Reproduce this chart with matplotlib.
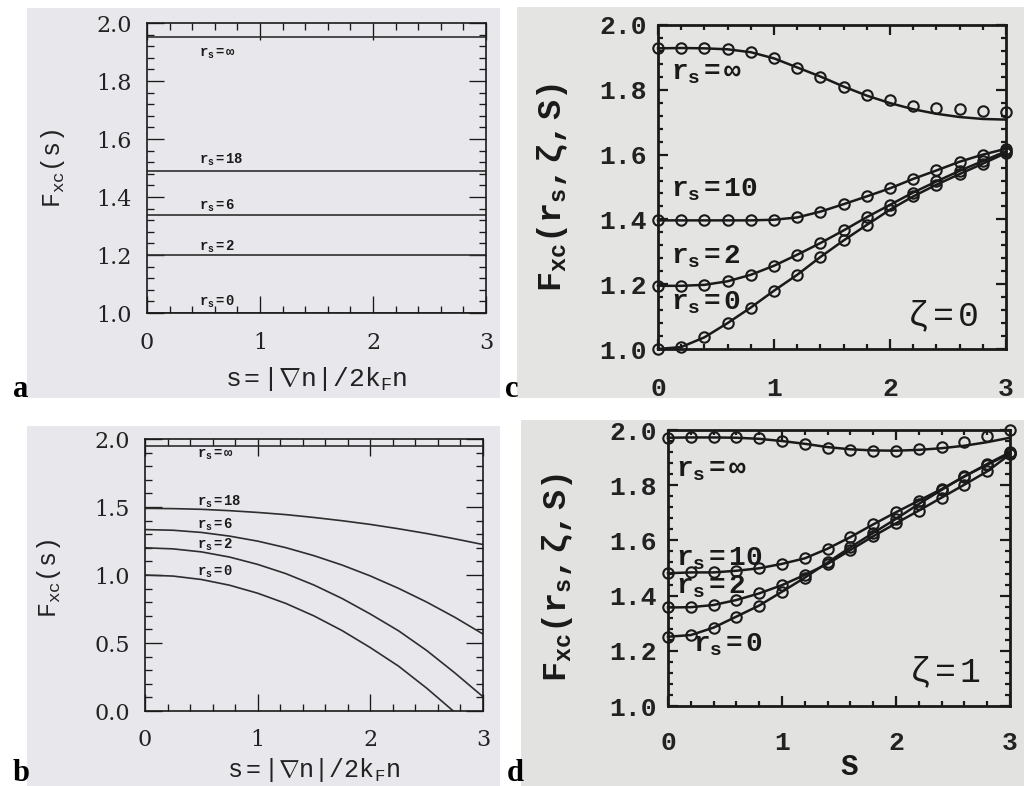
import matplotlib
matplotlib.use("Agg")
import matplotlib.pyplot as plt
from matplotlib.patches import Rectangle
from matplotlib.ticker import MultipleLocator, FormatStrFormatter

plt.rcParams['font.family'] = ['Liberation Mono', 'DejaVu Sans Mono']
plt.rcParams['mathtext.fontset'] = 'custom'
plt.rcParams['mathtext.rm'] = 'Liberation Mono'
plt.rcParams['mathtext.bf'] = 'Liberation Mono:bold'
plt.rcParams['mathtext.it'] = 'Liberation Mono:italic'

# ---- data -------------------------------------------------------------
# panel a: LDA limit, constant enhancement factor per r_s
a_labels = [r'r_s=\infty', 'r_s=18', 'r_s=6', 'r_s=2', 'r_s=0']
a_levels = [1.953, 1.489, 1.337, 1.200, 1.000]
a_label_y = [1.896, 1.528, 1.369, 1.229, 1.037]

# panel b: second-order gradient expansion
b_s = [0.0, 0.25, 0.5, 0.75, 1.0, 1.25, 1.5, 1.75, 2.0, 2.25, 2.5, 2.75, 3.0]
b_inf = [1.946, 1.946, 1.946, 1.946, 1.946, 1.946, 1.946, 1.946, 1.946, 1.946, 1.946, 1.946, 1.946]
b_rs18 = [1.490, 1.488, 1.483, 1.473, 1.460, 1.444, 1.423, 1.399, 1.372, 1.340, 1.305, 1.266, 1.224]
b_rs6 = [1.334, 1.329, 1.313, 1.286, 1.249, 1.201, 1.142, 1.073, 0.993, 0.902, 0.801, 0.689, 0.566]
b_rs2 = [1.200, 1.192, 1.170, 1.132, 1.078, 1.010, 0.926, 0.827, 0.713, 0.590, 0.445, 0.280, 0.105]
b_s0 = [0.0, 0.25, 0.5, 0.75, 1.0, 1.25, 1.5, 1.75, 2.0, 2.25, 2.5, 2.736]
b_rs0 = [1.000, 0.992, 0.967, 0.925, 0.866, 0.791, 0.699, 0.591, 0.466, 0.330, 0.168, 0.000]
b_labels = [r'r_s=\infty', 'r_s=18', 'r_s=6', 'r_s=2', 'r_s=0']
b_label_y = [1.89, 1.54, 1.37, 1.22, 1.02]

# panels c, d: GGA curves (lines) and real-space cutoff results (circles)
s_pts = [0.0, 0.2, 0.4, 0.6, 0.8, 1.0, 1.2, 1.4, 1.6, 1.8, 2.0, 2.2, 2.4, 2.6, 2.8, 3.0]

c_inf_pts = [1.928, 1.930, 1.928, 1.926, 1.918, 1.897, 1.868, 1.841, 1.810, 1.784, 1.767, 1.751, 1.745, 1.740, 1.735, 1.732]
c_inf_line = [1.928, 1.929, 1.928, 1.925, 1.916, 1.897, 1.869, 1.841, 1.810, 1.782, 1.759, 1.740, 1.726, 1.716, 1.710, 1.708]
c_rs10 = [1.397, 1.397, 1.397, 1.397, 1.397, 1.399, 1.406, 1.424, 1.447, 1.471, 1.496, 1.525, 1.551, 1.578, 1.600, 1.618]
c_rs2 = [1.195, 1.195, 1.198, 1.209, 1.229, 1.257, 1.291, 1.327, 1.366, 1.407, 1.445, 1.483, 1.517, 1.550, 1.580, 1.610]
c_rs0 = [1.000, 1.006, 1.036, 1.080, 1.128, 1.180, 1.229, 1.284, 1.335, 1.383, 1.430, 1.471, 1.507, 1.540, 1.572, 1.605]

d_inf_pts = [1.972, 1.976, 1.976, 1.973, 1.970, 1.960, 1.948, 1.934, 1.928, 1.924, 1.924, 1.931, 1.940, 1.955, 1.979, 2.000]
d_inf_line = [1.972, 1.973, 1.973, 1.972, 1.968, 1.960, 1.950, 1.938, 1.930, 1.926, 1.925, 1.928, 1.934, 1.943, 1.956, 1.972]
d_rs10 = [1.481, 1.484, 1.484, 1.490, 1.499, 1.515, 1.535, 1.570, 1.612, 1.658, 1.702, 1.744, 1.786, 1.831, 1.877, 1.919]
d_rs2 = [1.357, 1.358, 1.366, 1.384, 1.408, 1.438, 1.475, 1.515, 1.565, 1.615, 1.662, 1.708, 1.755, 1.802, 1.850, 1.912]
d_rs0 = [1.251, 1.257, 1.284, 1.324, 1.364, 1.414, 1.465, 1.520, 1.575, 1.627, 1.678, 1.732, 1.783, 1.833, 1.874, 1.915]

c_labels = [r'r_s=\infty', 'r_s=10', 'r_s=2', 'r_s=0']
c_label_xy = [(0.11, 1.851), (0.11, 1.491), (0.11, 1.286), (0.11, 1.142)]
d_labels = [r'r_s=\infty', 'r_s=10', 'r_s=2', 'r_s=0']
d_label_xy = [(0.07, 1.855), (0.07, 1.535), (0.07, 1.432), (0.22, 1.221)]

# ---- figure -----------------------------------------------------------
W, H = 1024, 786
fig = plt.figure(figsize=(W / 100, H / 100), dpi=100, facecolor='white')


def px_rect(x0, y0, x1, y1, color):
    fig.add_artist(Rectangle((x0 / W, 1 - y1 / H), (x1 - x0) / W, (y1 - y0) / H,
                             transform=fig.transFigure, color=color, zorder=0, lw=0))


def px_axes(x0, y0, x1, y1):
    ax = fig.add_axes([x0 / W, 1 - y1 / H, (x1 - x0) / W, (y1 - y0) / H])
    ax.set_facecolor('none')
    return ax


px_rect(27, 8, 500, 398, '#e8e8ec')
px_rect(27, 426, 500, 786, '#e8e8ec')
px_rect(517, 7, 1024, 398, '#e4e4e3')
px_rect(521, 420, 1024, 786, '#e2e2e1')

ink_thin = '#2e2e2e'
ink = '#1a1a1a'


def style(ax, ylim, ymaj, ymin, lw, majlen, minlen, size, weight, family, xpad, ypad):
    ax.set_xlim(0, 3)
    ax.set_ylim(*ylim)
    ax.xaxis.set_major_locator(MultipleLocator(1))
    ax.xaxis.set_minor_locator(MultipleLocator(0.2))
    ax.yaxis.set_major_locator(MultipleLocator(ymaj))
    ax.yaxis.set_minor_locator(MultipleLocator(ymin))
    ax.yaxis.set_major_formatter(FormatStrFormatter('%.1f'))
    ax.xaxis.set_major_formatter(FormatStrFormatter('%d'))
    ax.tick_params(which='both', direction='in', top=True, right=True,
                   color=ink, width=lw * 0.8)
    ax.tick_params(which='major', length=majlen)
    ax.tick_params(which='minor', length=minlen)
    ax.tick_params(axis='x', which='major', pad=xpad)
    ax.tick_params(axis='y', which='major', pad=ypad)
    for sp in ax.spines.values():
        sp.set_linewidth(lw)
        sp.set_color(ink)
    for lab in ax.get_xticklabels() + ax.get_yticklabels():
        lab.set_fontsize(size)
        lab.set_fontweight(weight)
        lab.set_family(family)
        lab.set_color('#222222')


# panel a
ax_a = px_axes(147, 23, 486, 313)
style(ax_a, (1.0, 2.0), 0.2, 0.04, 1.2, 12, 5, 16, 'normal', 'DejaVu Serif', 14, 11)
for lev, lab, ly in zip(a_levels, a_labels, a_label_y):
    ax_a.plot([0, 3], [lev, lev], color=ink_thin, lw=1.2)
    ax_a.text(0.46, ly, r'$\mathbf{%s}$' % lab, fontsize=10, va='center', ha='left', color=ink)
ax_a.set_ylabel(r'$\mathrm{F_{xc}(s)}$', fontsize=18, color='#222222')
ax_a.yaxis.set_label_coords(-0.236, 0.5)
ax_a.set_xlabel(r'$\mathrm{s=|\nabla n|/2k_Fn}$', fontsize=19, color='#222222')
ax_a.xaxis.set_label_coords(0.5, -0.18)

# panel b
ax_b = px_axes(145, 439, 483, 711)
style(ax_b, (0.0, 2.0), 0.5, 0.1, 1.2, 12, 5, 16, 'normal', 'DejaVu Serif', 13, 11)
ax_b.plot(b_s, b_inf, color=ink_thin, lw=1.2)
ax_b.plot(b_s, b_rs18, color=ink_thin, lw=1.2)
ax_b.plot(b_s, b_rs6, color=ink_thin, lw=1.2)
ax_b.plot(b_s, b_rs2, color=ink_thin, lw=1.2)
ax_b.plot(b_s0, b_rs0, color=ink_thin, lw=1.2)
for lab, ly in zip(b_labels, b_label_y):
    ax_b.text(0.46, ly, r'$\mathbf{%s}$' % lab, fontsize=10, va='center', ha='left', color=ink)
ax_b.set_ylabel(r'$\mathrm{F_{xc}(s)}$', fontsize=18, color='#222222')
ax_b.yaxis.set_label_coords(-0.243, 0.49)
ax_b.set_xlabel(r'$\mathrm{s=|\nabla n|/2k_Fn}$', fontsize=18, color='#222222')
ax_b.xaxis.set_label_coords(0.5, -0.165)


def gga_panel(ax, inf_pts, inf_line, others, labels, label_xy, zeta_text, zeta_xy):
    ax.plot(s_pts, inf_line, color=ink, lw=1.8, clip_on=False)
    ax.plot(s_pts, inf_pts, 'o', mfc='none', mec=ink, ms=7.5, mew=1.5, clip_on=False)
    for vals in others:
        ax.plot(s_pts, vals, color=ink, lw=1.8, marker='o', mfc='none', mec=ink,
                ms=7.5, mew=1.5, clip_on=False)
    for lab, (lx, ly) in zip(labels, label_xy):
        ax.text(lx, ly, r'$\mathbf{%s}$' % lab, fontsize=20, va='center', ha='left', color=ink)
    ax.text(zeta_xy[0], zeta_xy[1], zeta_text, fontsize=25, va='center', ha='center', color=ink)


# panel c
ax_c = px_axes(658, 25, 1006, 349)
style(ax_c, (1.0, 2.0), 0.2, 0.04, 2.0, 7, 3.5, 19, 'bold', 'Liberation Mono', 20, 8)
gga_panel(ax_c, c_inf_pts, c_inf_line, [c_rs10, c_rs2, c_rs0], c_labels, c_label_xy,
          r'$\mathrm{\zeta=0}$', (2.45, 1.10))
ax_c.set_ylabel(r'$\mathbf{F_{xc}(r_s,\zeta,S)}$', fontsize=24, color=ink)
ax_c.yaxis.set_label_coords(-0.253, 0.5)

# panel d
ax_d = px_axes(668, 430, 1010, 706)
style(ax_d, (1.0, 2.0), 0.2, 0.04, 2.0, 7, 3.5, 19, 'bold', 'Liberation Mono', 18, 8)
gga_panel(ax_d, d_inf_pts, d_inf_line, [d_rs10, d_rs2, d_rs0], d_labels, d_label_xy,
          r'$\mathrm{\zeta=1}$', (2.43, 1.124))
ax_d.set_ylabel(r'$\mathbf{F_{xc}(r_s,\zeta,S)}$', fontsize=24, color=ink)
ax_d.yaxis.set_label_coords(-0.272, 0.467)
ax_d.set_xlabel(r'$\mathbf{S}$', fontsize=21, color=ink)
ax_d.xaxis.set_label_coords(0.53, -0.17)

# panel letters
for letter, (x, y) in zip('abcd', [(13, 397), (13, 781), (505, 397), (507, 781)]):
    fig.text(x / W, 1 - y / H, letter, fontsize=22, fontweight='bold',
             family='Liberation Serif', va='baseline', ha='left', color='black')

fig.savefig('out.png', dpi=100, facecolor='white')
